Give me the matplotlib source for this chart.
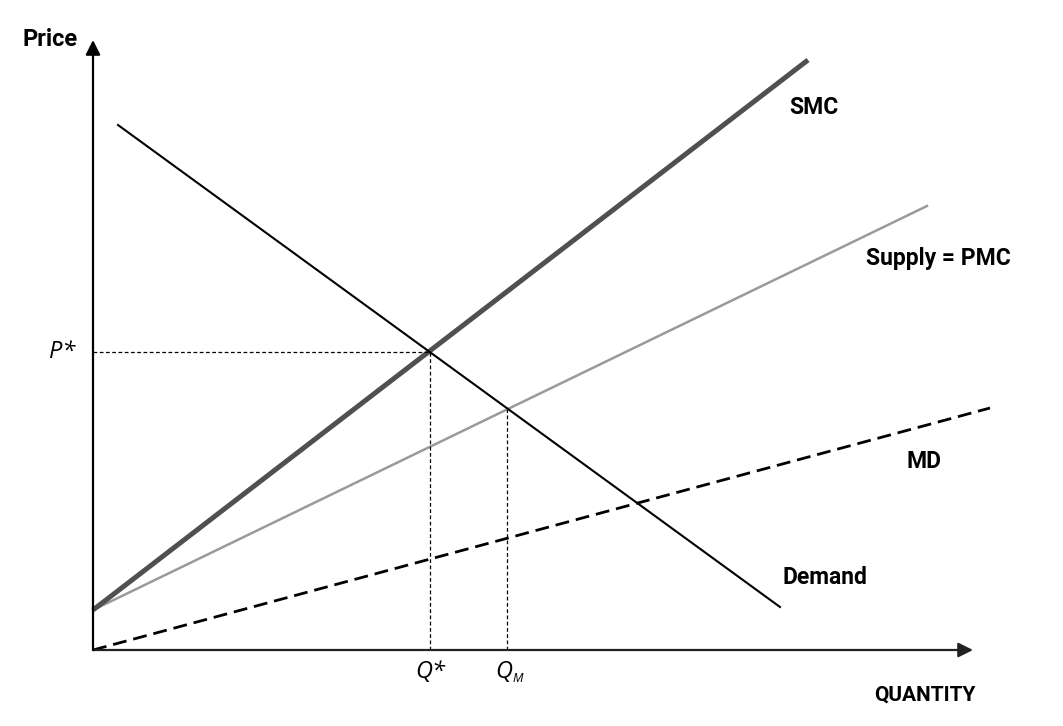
import matplotlib
matplotlib.use("Agg")
import matplotlib.pyplot as plt

# Data (coordinates; origin at the axes corner)
smc_x = [0, 715]
smc_y = [40, 590]
pmc_x = [0, 834]
pmc_y = [40, 444]
md_x = [0, 897]
md_y = [0, 242]
demand_x = [25, 687]
demand_y = [525, 43]
q_star, p_star = 337, 298
q_m, p_m = 414, 242

fam = ['Roboto', 'DejaVu Sans']

fig = plt.figure(figsize=(10.63, 7.26), dpi=100)
ax = fig.add_axes([0, 0, 1, 1])
ax.set_xlim(-93, 970)
ax.set_ylim(-76, 650)
ax.axis('off')

# axes with arrows
ax.annotate('', xy=(880, 0), xytext=(0, 0),
            arrowprops=dict(arrowstyle='-|>', color='#222222', lw=1.6,
                            mutation_scale=22, shrinkA=0, shrinkB=0))
ax.annotate('', xy=(0, 610), xytext=(0, 0),
            arrowprops=dict(arrowstyle='-|>', color='black', lw=1.6,
                            mutation_scale=22, shrinkA=0, shrinkB=0))

# curves
ax.plot(md_x, md_y, color='black', lw=2.0, ls=(0, (5, 2.5)))
ax.plot(pmc_x, pmc_y, color='#9a9a9a', lw=1.8)
ax.plot(smc_x, smc_y, color='#505050', lw=3.6, solid_capstyle='butt')
ax.plot(demand_x, demand_y, color='black', lw=1.5)

# guide lines
ax.plot([0, q_star], [p_star, p_star], color='black', lw=0.9, ls=(0, (3, 2)))
ax.plot([q_star, q_star], [0, p_star], color='black', lw=0.9, ls=(0, (3, 2)))
ax.plot([q_m, q_m], [0, p_m], color='black', lw=0.9, ls=(0, (3, 2)))

# labels
bold = dict(family=fam, fontweight='bold', fontsize=16.5)
ax.text(-70, 611, 'Price', ha='left', va='center', family=fam,
        fontweight='bold', fontsize=17)
ax.text(781, -45, 'QUANTITY', ha='left', va='center', family=fam,
        fontweight='bold', fontsize=15)
ax.text(696, 542, 'SMC', ha='left', va='center', **bold)
ax.text(773, 392, 'Supply = PMC', ha='left', va='center', **bold)
ax.text(814, 188, 'MD', ha='left', va='center', **bold)
ax.text(689, 72, 'Demand', ha='left', va='center', **bold)

ifam = ['Open Sans', 'DejaVu Sans']
ital = dict(family=ifam, style='italic', fontsize=17)
ax.text(-31, p_star, 'P*', ha='center', va='center', **ital)
ax.text(q_star, -22, 'Q*', ha='center', va='center', **ital)
ax.text(q_m - 3, -22, 'Q', ha='center', va='center', **ital)
ax.text(q_m + 5, -29, 'M', ha='left', va='center', family=ifam,
        style='italic', fontsize=9)

fig.savefig('out.png', dpi=100)
